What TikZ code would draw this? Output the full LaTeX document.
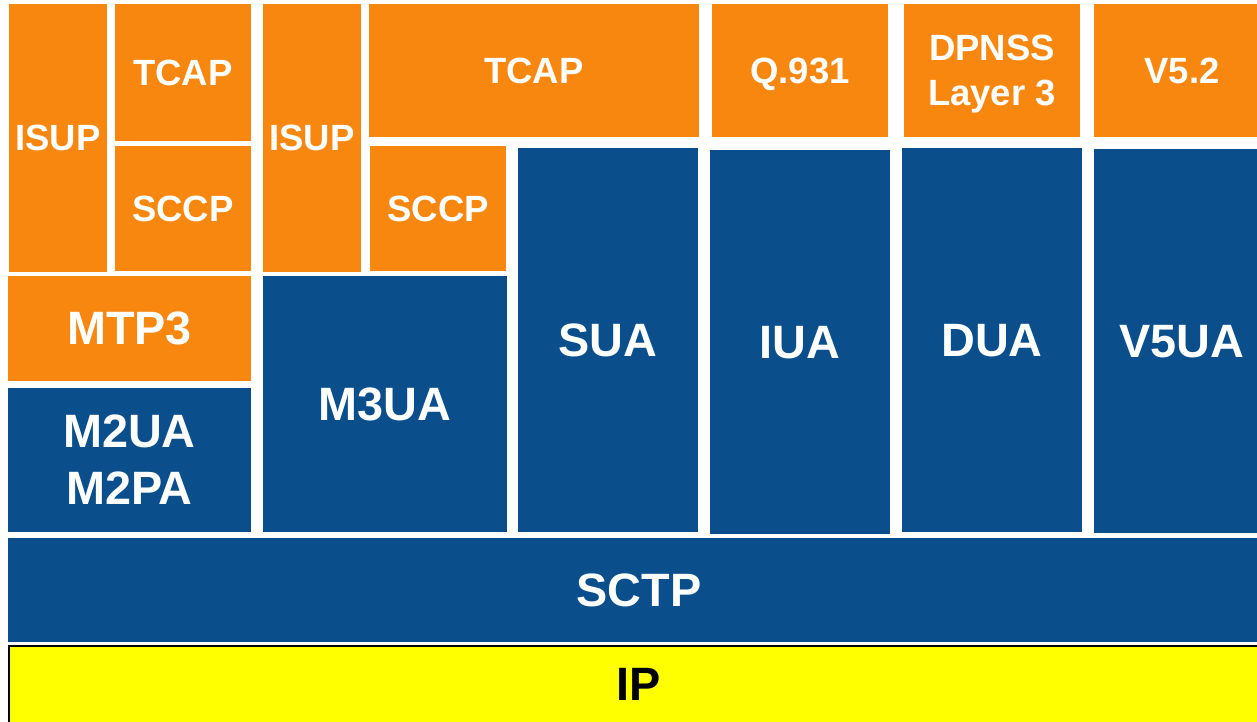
\documentclass[tikz,border=0pt]{standalone}
\usepackage{fontspec}
\setmainfont{Liberation Sans}
\definecolor{sigorange}{RGB}{248,135,16}
\definecolor{sigblue}{RGB}{10,78,140}
\definecolor{ipyellow}{RGB}{255,255,0}
\tikzset{
  layerbox/.style={inner sep=0pt, outer sep=0pt, align=center, text=white,
    text depth=0pt, font=\bfseries},
  sigbox/.style={layerbox, fill=sigorange},
  uabox/.style={layerbox, fill=sigblue},
  smalltxt/.style={font=\fontsize{36.5}{45}\selectfont\bfseries},
  bigtxt/.style={font=\fontsize{46.8}{57}\selectfont\bfseries},
}
% \layer{name}{style}{x1}{y1}{x2}{y2}{text}
\newcommand\layer[7]{%
  \node[#2, minimum width={#5-#3}, minimum height={#6-#4}]
    (#1) at ({(#3+#5)/2},{(#4+#6)/2}) {#7};}
\begin{document}
\begin{tikzpicture}[x=1pt,y=-1pt]
  \useasboundingbox (0,0) rectangle (1257,721);
  \fill[white] (0,0) rectangle (1257,721);
  \clip (0,0) rectangle (1257,721);
  % SS7 over MTP3 / M2UA column
  \layer{isupA}{sigbox,smalltxt}{9}{4}{107}{272}{ISUP}
  \layer{tcapA}{sigbox,smalltxt}{115}{4}{251}{141}{TCAP}
  \layer{sccpA}{sigbox,smalltxt}{115}{146}{251}{271}{SCCP}
  \layer{mtp3}{sigbox,bigtxt}{8}{276}{251}{381}{MTP3}
  \layer{m2ua}{uabox,bigtxt}{8}{388}{251}{532}{M2UA\\M2PA}
  % M3UA column
  \layer{isupB}{sigbox,smalltxt}{263}{4}{361}{272}{ISUP}
  \layer{tcapB}{sigbox,smalltxt}{369}{4}{699}{137}{TCAP}
  \layer{sccpB}{sigbox,smalltxt}{370}{146}{506}{271}{SCCP}
  \layer{m3ua}{uabox,bigtxt}{263}{276}{507}{532}{M3UA}
  % SUA
  \layer{sua}{uabox,bigtxt}{518}{148}{698}{532}{SUA}
  % ISDN / DPNSS / V5 adaptation layers
  \layer{q931}{sigbox,smalltxt}{712}{4}{888}{137}{Q.931}
  \layer{iua}{uabox,bigtxt}{710}{150}{890}{534}{IUA}
  \layer{dpnss}{sigbox,smalltxt}{904}{4}{1080}{137}{DPNSS\\Layer 3}
  \layer{dua}{uabox,bigtxt}{902}{148}{1082}{532}{DUA}
  \layer{v52}{sigbox,smalltxt}{1094}{4}{1270}{137}{V5.2}
  \layer{v5ua}{uabox,bigtxt}{1094}{149}{1270}{533}{V5UA}
  % transport
  \layer{sctp}{uabox,bigtxt}{8}{538}{1270}{642}{SCTP}
  \node[layerbox, bigtxt, text=black, fill=ipyellow, draw=black, line width=2pt,
    minimum width=1260, minimum height=77] (ip) at (639,684.5) {IP};
\end{tikzpicture}
\end{document}
